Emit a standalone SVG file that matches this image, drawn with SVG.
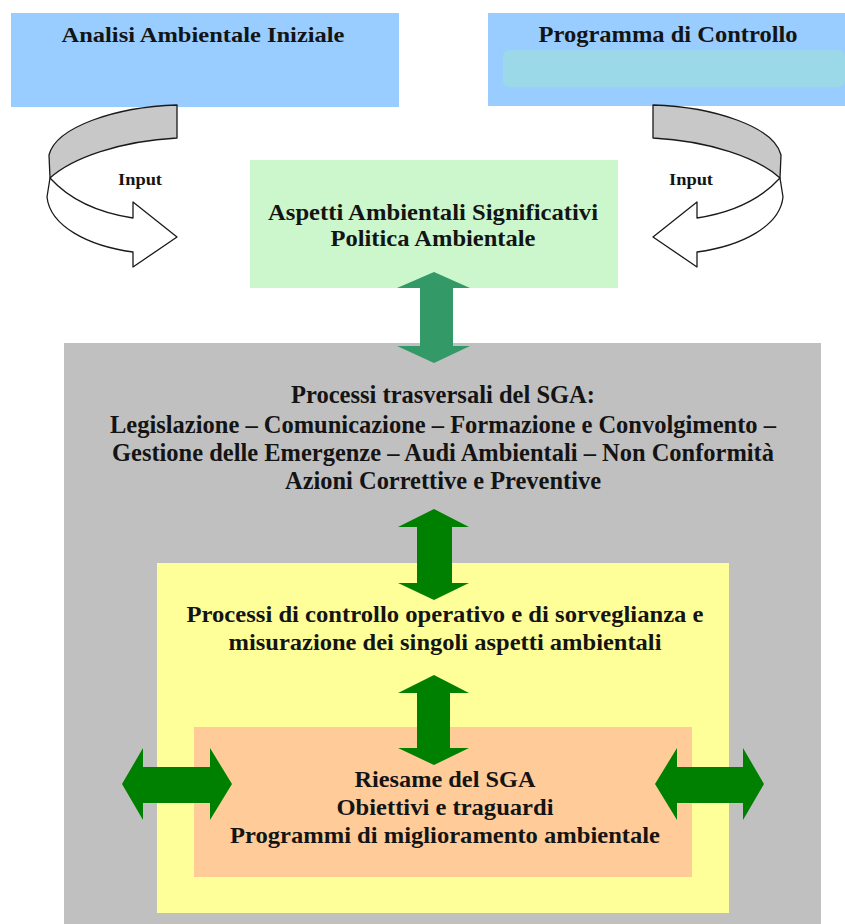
<svg xmlns="http://www.w3.org/2000/svg" width="845" height="924" viewBox="0 0 845 924">
  <style>
    .t { font-family: "Liberation Serif", "Times New Roman", serif; font-weight: bold; fill: #141414; text-anchor: middle; }
    .f22 { font-size: 22px; }
    .f23 { font-size: 23px; }
    .f24 { font-size: 24px; }
    .f25 { font-size: 25px; }
    .f15 { font-size: 16px; }
    .band { fill: #c8c8c8; stroke: #1a1a1a; stroke-width: 1.3; stroke-linejoin: round; }
    .front { fill: #ffffff; stroke: #1a1a1a; stroke-width: 1.3; stroke-linejoin: round; }
    .dg { fill: #008000; }
    .teal { fill: #339966; }
  </style>
  <defs>
    <g id="curved">
      <path class="band" d="M177,105 C115,107 56,127 49,155 L50,178 C72,158 120,141 177,138 Z"/>
      <path class="front" d="M50,178 C70,200 100,213 133,218 L133,202 L177,237 L133,267 L133,252 C88,246 50,226 47,197 Z"/>
    </g>
  </defs>

  <rect width="845" height="924" fill="#ffffff"/>

  <g id="analisi">
    <rect x="11" y="13" width="388" height="94" fill="#99ccff"/>
    <text class="t f22" x="203" y="42" textLength="283" lengthAdjust="spacingAndGlyphs">Analisi Ambientale Iniziale</text>
  </g>

  <g id="programma">
    <rect x="488" y="13" width="357" height="93" fill="#99ccff"/>
    <rect x="503" y="50" width="342" height="37" rx="6" fill="#9bd8e8"/>
    <text class="t f23" x="668" y="42" textLength="259" lengthAdjust="spacingAndGlyphs">Programma di Controllo</text>
  </g>

  <g id="aspetti">
    <rect x="250" y="160" width="368" height="128" fill="#ccf7cc"/>
    <text class="t f23" x="433" y="220" textLength="330" lengthAdjust="spacingAndGlyphs">Aspetti Ambientali Significativi</text>
    <text class="t f23" x="433" y="246" textLength="205" lengthAdjust="spacingAndGlyphs">Politica Ambientale</text>
  </g>

  <g id="processi-trasversali">
    <rect x="64" y="343" width="757" height="581" fill="#c0c0c0"/>
    <text class="t f25" x="443" y="403" textLength="304" lengthAdjust="spacingAndGlyphs">Processi trasversali del SGA:</text>
    <text class="t f25" x="443" y="433" textLength="666" lengthAdjust="spacingAndGlyphs">Legislazione – Comunicazione – Formazione e Convolgimento –</text>
    <text class="t f25" x="443" y="461" textLength="662" lengthAdjust="spacingAndGlyphs">Gestione delle Emergenze – Audi Ambientali – Non Conformità</text>
    <text class="t f25" x="443" y="489" textLength="316" lengthAdjust="spacingAndGlyphs">Azioni Correttive e Preventive</text>
  </g>

  <g id="controllo-operativo">
    <rect x="157" y="563" width="572" height="350" fill="#ffff99"/>
    <text class="t f24" x="445" y="622" textLength="517" lengthAdjust="spacingAndGlyphs">Processi di controllo operativo e di sorveglianza e</text>
    <text class="t f24" x="445" y="650" textLength="433" lengthAdjust="spacingAndGlyphs">misurazione dei singoli aspetti ambientali</text>
  </g>

  <g id="riesame">
    <rect x="194" y="727" width="498" height="150" fill="#ffcc99"/>
    <text class="t f24" x="445" y="787" textLength="181" lengthAdjust="spacingAndGlyphs">Riesame del SGA</text>
    <text class="t f24" x="445" y="815" textLength="217" lengthAdjust="spacingAndGlyphs">Obiettivi e traguardi</text>
    <text class="t f24" x="445" y="843" textLength="430" lengthAdjust="spacingAndGlyphs">Programmi di miglioramento ambientale</text>
  </g>

  <g id="connectors">
    <g id="input-left">
      <use href="#curved"/>
      <text class="t f15" x="140" y="185" textLength="44" lengthAdjust="spacingAndGlyphs">Input</text>
    </g>
    <g id="input-right">
      <use href="#curved" transform="translate(830,0) scale(-1,1)"/>
      <text class="t f15" x="691" y="185" textLength="44" lengthAdjust="spacingAndGlyphs">Input</text>
    </g>
    <path id="arrow-aspetti-trasversali" class="teal" d="M434,272 L470,288 L453,288 L453,346 L470,346 L434,363 L397,346 L420,346 L420,288 L397,288 Z"/>
    <path id="arrow-trasversali-controllo" class="dg" d="M434,509 L469,527 L452,527 L452,583 L469,583 L434,600 L398,583 L417,583 L417,527 L398,527 Z"/>
    <path id="arrow-controllo-riesame" class="dg" d="M434,675 L469,693 L450,693 L450,748 L469,748 L434,765 L398,748 L417,748 L417,693 L398,693 Z"/>
    <path id="arrow-left" class="dg" d="M122,784 L143,748 L143,767 L210,767 L210,748 L232,784 L210,820 L210,803 L143,803 L143,820 Z"/>
    <path id="arrow-right" class="dg" d="M655,784 L677,748 L677,767 L743,767 L743,748 L764,784 L743,820 L743,803 L677,803 L677,820 Z"/>
  </g>
</svg>
